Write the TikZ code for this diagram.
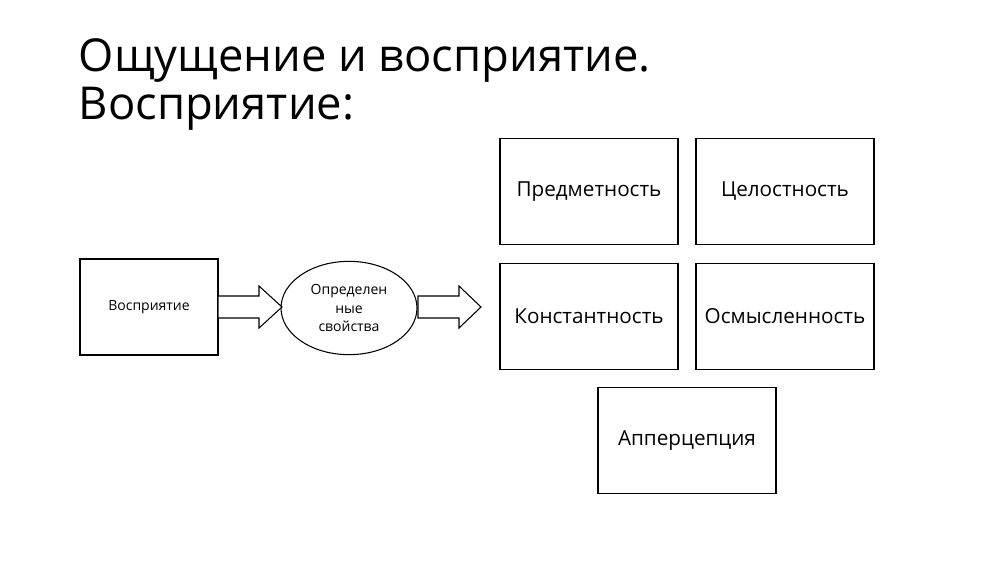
\documentclass[tikz,border=0pt]{standalone}
\usepackage{fontspec}
\setmainfont{Open Sans}
\usetikzlibrary{shapes.geometric}
\begin{document}
\begin{tikzpicture}[x=0.75pt,y=-0.75pt,
  box/.style={draw,line width=0.8pt,minimum width=133.5pt,minimum height=80pt,inner sep=0pt,font=\fontsize{15.5}{18}\selectfont},
  barrow/.style={draw,line width=0.8pt,fill=white}]
\useasboundingbox (0,0) rectangle (1000,562);
\node[anchor=west,align=left,font=\fontsize{34}{35}\selectfont] (title) at (74,85) {Ощущение и восприятие.\\[1pt]Восприятие:};
\node[box] (b1) at (589,191.5) {Предметность};
\node[box] (b2) at (785,191.5) {Целостность};
\node[box] (b3) at (589,316.5) {Константность};
\node[box] (b4) at (785,316.5) {Осмысленность};
\node[box] (b5) at (687,440.5) {Апперцепция};
\node[draw,line width=0.8pt,minimum width=103.5pt,minimum height=72pt,font=\fontsize{10.5}{13}\selectfont] (v) at (149,307) {Восприятие};
\node[draw,ellipse,line width=0.8pt,minimum width=102pt,minimum height=70pt,inner sep=0pt,align=center,font=\fontsize{10.5}{14}\selectfont] (e) at (349,308) {Определен\\ные\\свойства};
\draw[barrow] (218,296) -- (259,296) -- (259,286) -- (282,307) -- (259,328) -- (259,318) -- (218,318) -- cycle;
\draw[barrow] (418,296) -- (459,296) -- (459,286) -- (481,307) -- (459,328) -- (459,318) -- (418,318) -- cycle;
\end{tikzpicture}
\end{document}
